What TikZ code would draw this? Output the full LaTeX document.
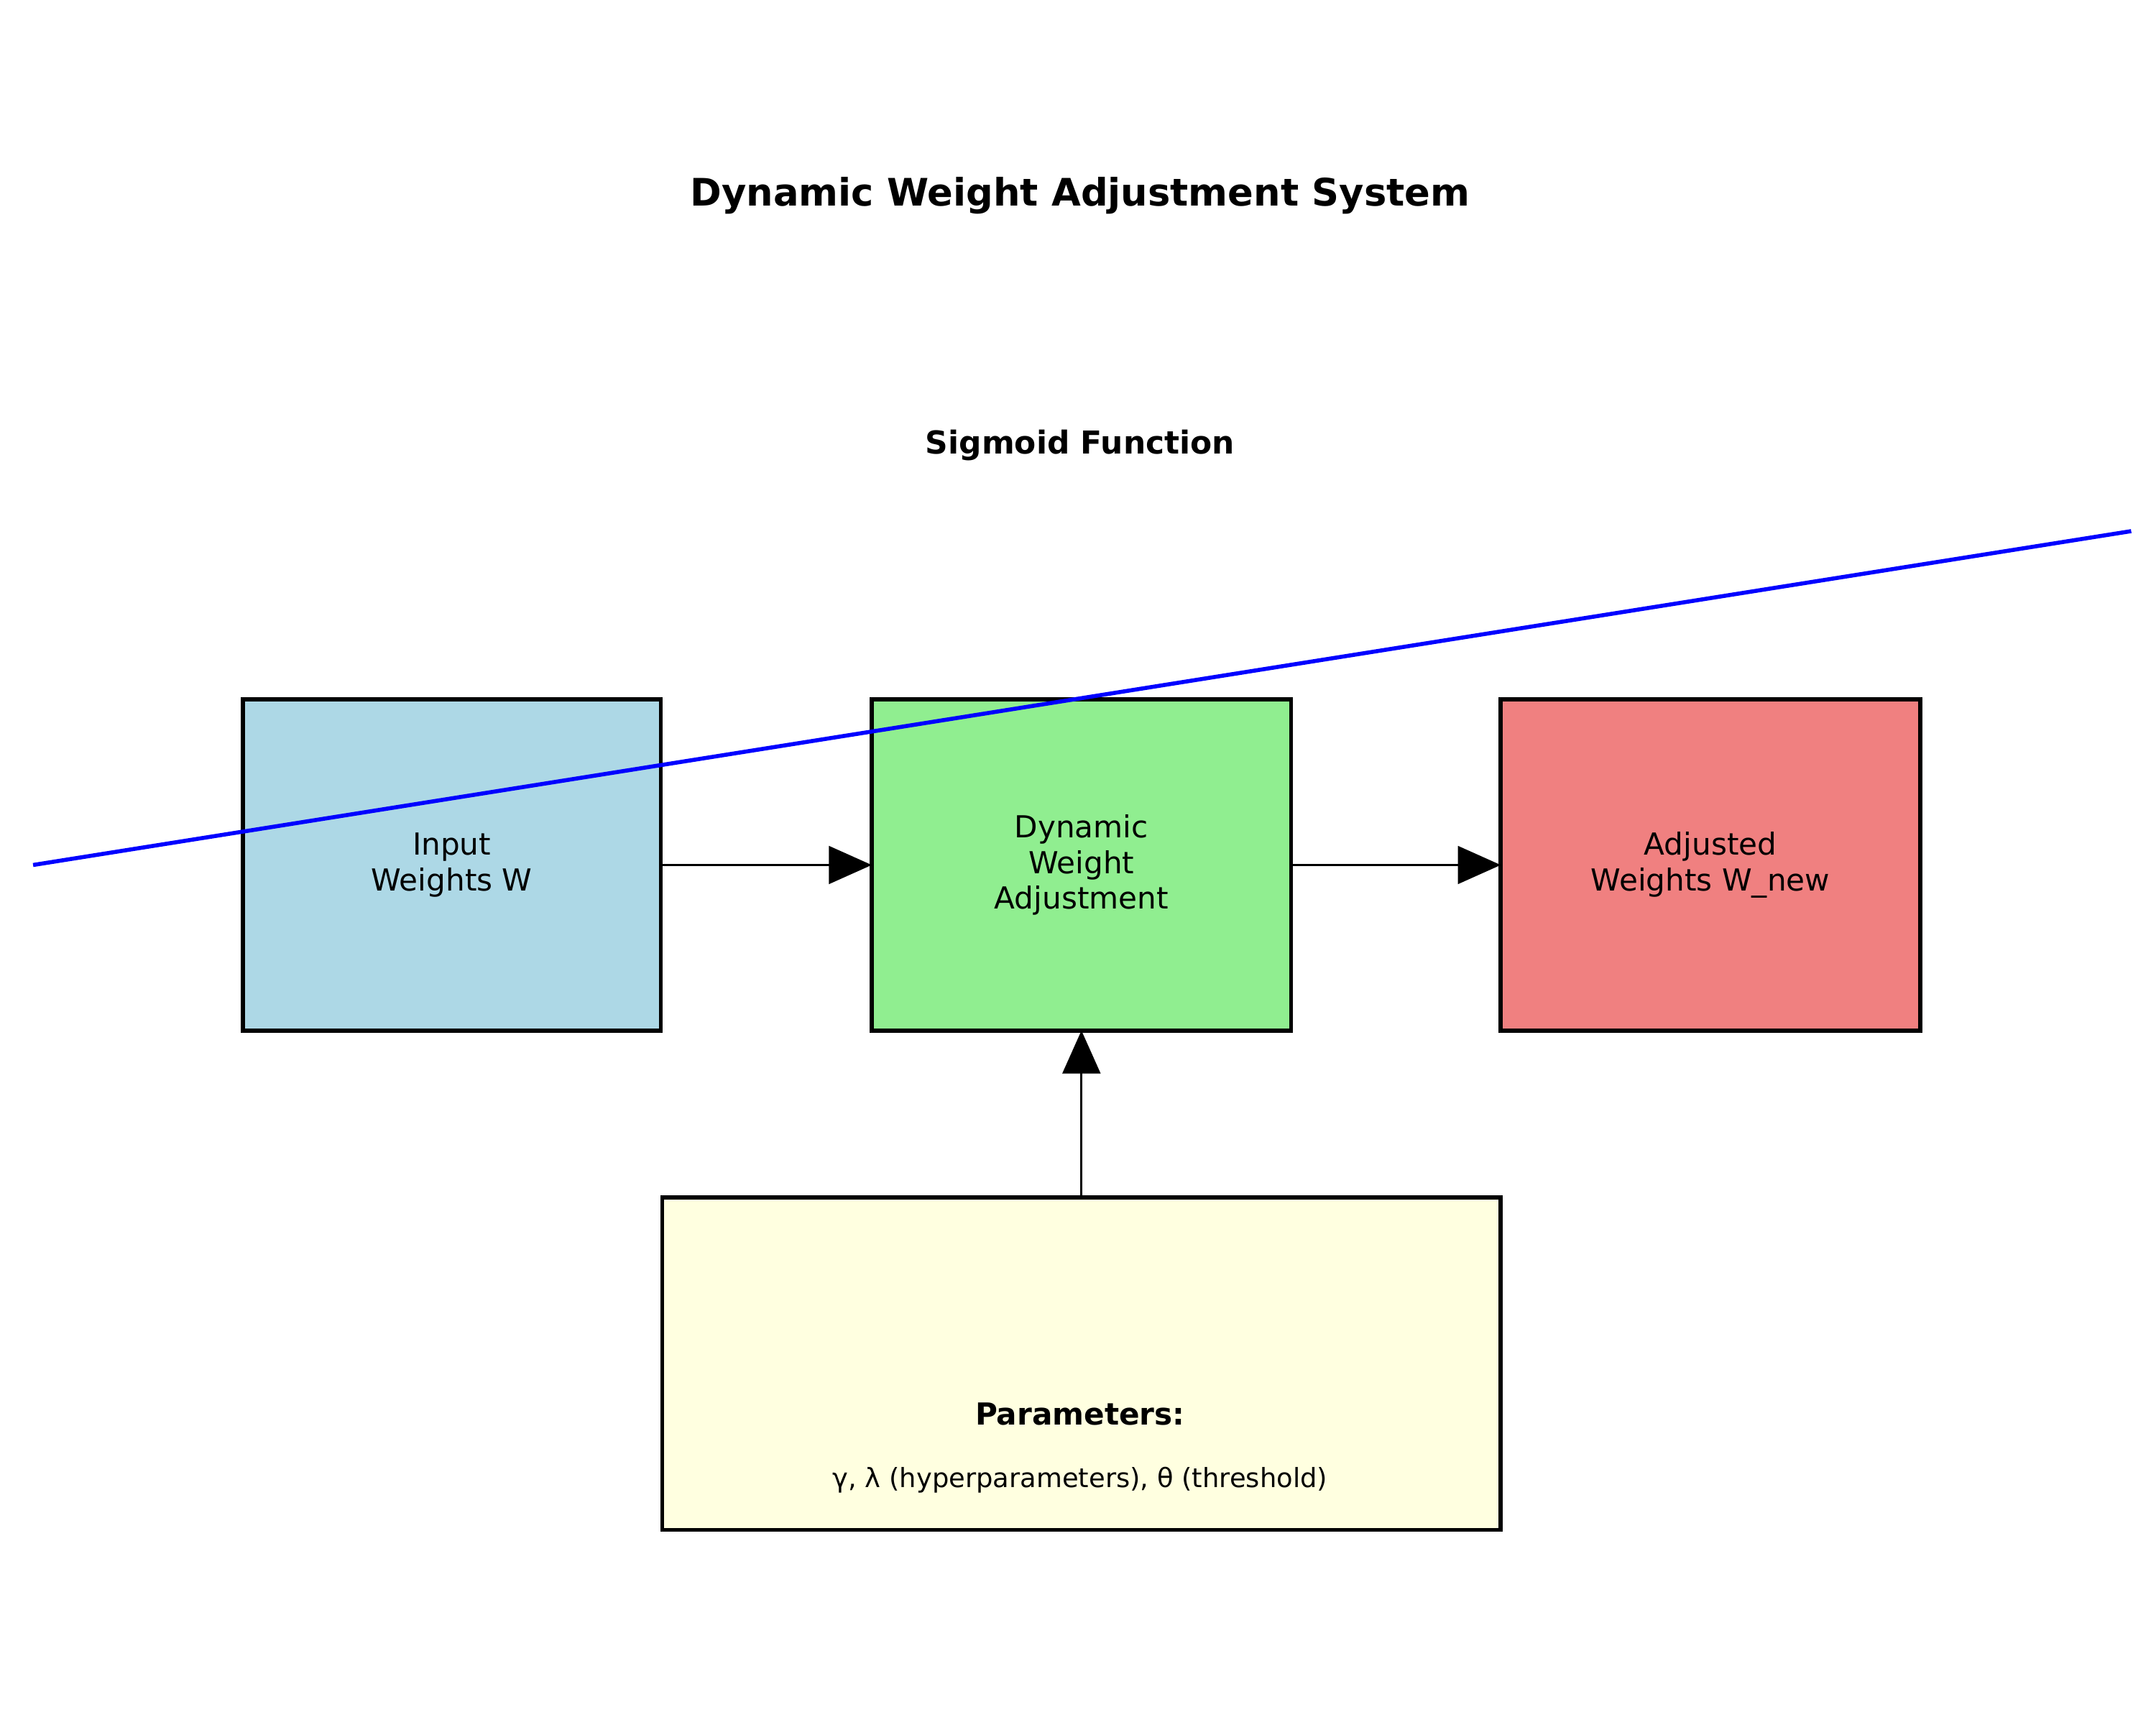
\documentclass[tikz,border=0pt]{standalone}
\usepackage{fontspec}
\setmainfont{DejaVu Sans}
\usetikzlibrary{arrows.meta}
\begin{document}
\begin{tikzpicture}[x=0.019194cm,y=-0.019194cm,
 box/.style={draw=black,line width=1.6pt,inner sep=0pt},
 lbl/.style={font=\fontsize{12}{14}\selectfont,align=center},
 arr/.style={line width=0.8pt,-{Triangle[length=17pt,width=15pt]}}]
\useasboundingbox (0,0) rectangle (1563,1250);
\node[font=\bfseries\fontsize{15}{18}\selectfont] (title) at (783,142) {Dynamic Weight Adjustment System};
\node[font=\bfseries\fontsize{12.5}{15}\selectfont] (sig) at (783,323) {Sigmoid Function};
\draw[box,fill={rgb,255:red,173;green,216;blue,230}] (176,507) rectangle (479,747);
\node[lbl] (inp) at (327.5,627) {Input\\Weights W};
\draw[box,fill={rgb,255:red,144;green,238;blue,144}] (632,507) rectangle (936,747);
\node[lbl] (dyn) at (784,627) {Dynamic\\Weight\\Adjustment};
\draw[box,fill={rgb,255:red,240;green,128;blue,128}] (1088,507) rectangle (1392,747);
\node[lbl] (adj) at (1240,627) {Adjusted\\Weights W\_new};
\draw[box,fill={rgb,255:red,255;green,255;blue,224}] (480,868) rectangle (1088,1109);
\node[font=\bfseries\fontsize{12}{14}\selectfont] (par) at (783,1025) {Parameters:};
\node[font=\fontsize{10.5}{13}\selectfont] (parv) at (783,1073) {γ, λ (hyperparameters), θ (threshold)};
\coordinate (a1) at (480,627); \coordinate (a2) at (632,627);
\coordinate (b1) at (937,627); \coordinate (b2) at (1088,627);
\coordinate (c1) at (784,867); \coordinate (c2) at (784,747);
\draw[arr] (a1) -- (a2);
\draw[arr] (b1) -- (b2);
\draw[arr] (c1) -- (c2);
\coordinate (s1) at (24,627); \coordinate (s2) at (1545,385);
\draw[blue,line width=1.6pt] (s1) -- (s2);
\end{tikzpicture}
\end{document}
